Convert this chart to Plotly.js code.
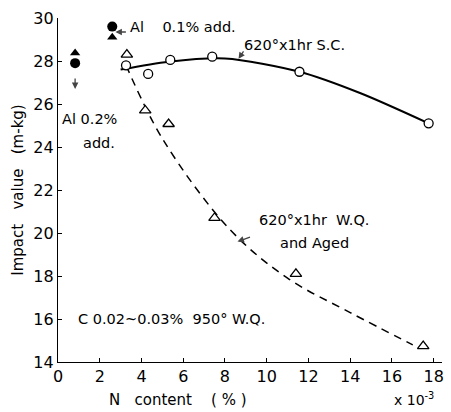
<!DOCTYPE html>
<html><head><meta charset="utf-8">
<script src="https://cdn.plot.ly/plotly-3.0.1.min.js"></script>
<style>body{margin:0;background:#fff}#c{width:451px;height:412px}</style>
</head><body><div id="c"></div>
<script>
// Measured points
const scX = [3.26, 4.32, 5.38, 7.39, 11.57, 17.76];
const scY = [27.8, 27.4, 28.05, 28.2, 27.5, 25.1];
const wqX = [3.3, 4.18, 5.3, 7.5, 11.4, 17.5];
const wqY = [28.3, 25.7, 25.07, 20.7, 18.1, 14.74];
// Hand-drawn fitting curves
const scCurveX = [3.0, 5.3, 8.0, 11.57, 14.5, 17.76];
const scCurveY = [27.6, 27.97, 28.12, 27.5, 26.5, 25.1];
const wqCurveX = [3.26, 5.04, 8.26, 11.0, 14.0, 17.0];
const wqCurveY = [27.8, 24.33, 20.14, 17.9, 16.3, 14.8];
// Al addition (filled markers)
const al2X = [0.82], al2CircY = [27.9], al2TriY = [28.37];
const al1X = [2.6], al1CircY = [29.6], al1TriY = [29.1];
const xTicks = [0,2,4,6,8,10,12,14,16,18];
const yTicks = [14,16,18,20,22,24,26,28,30];

const F = "DejaVu Sans";
const traces = [
  {x: scCurveX, y: scCurveY, mode:'lines', line:{shape:'spline', smoothing:0.8, color:'#000', width:2}, hoverinfo:'skip'},
  {x: wqCurveX, y: wqCurveY, mode:'lines', line:{shape:'spline', color:'#000', width:1.5, dash:'8px,6px'}, hoverinfo:'skip'},
  {x: scX, y: scY, mode:'markers', marker:{symbol:'circle', size:9, color:'#fff', line:{color:'#000', width:1.3}}},
  {x: wqX, y: wqY, mode:'markers', marker:{symbol:'triangle-up', size:10, color:'#fff', line:{color:'#000', width:1.3}}},
  {x: al2X, y: al2CircY, mode:'markers', marker:{symbol:'circle', size:10, color:'#000'}},
  {x: al2X, y: al2TriY, mode:'markers', marker:{symbol:'triangle-up', size:9, color:'#000'}},
  {x: al1X, y: al1CircY, mode:'markers', marker:{symbol:'circle', size:10, color:'#000'}},
  {x: al1X, y: al1TriY, mode:'markers', marker:{symbol:'triangle-up', size:9, color:'#000'}}
];
const tf = {family:F, size:14.5, color:'#000'};
const ann = (x,y,text,extra) => Object.assign({x, y, xref:'x', yref:'y', text, showarrow:false, xanchor:'left', yanchor:'middle', font:tf}, extra||{});
const layout = {
  width:451, height:412, showlegend:false,
  paper_bgcolor:'#fff', plot_bgcolor:'#fff',
  margin:{l:58, r:9, t:18, b:50},
  xaxis:{range:[0,18.4], tickvals:xTicks, ticktext:xTicks.map(String), showgrid:false, zeroline:false,
    showline:true, linecolor:'#000', linewidth:1.2, ticks:'inside', ticklen:4, tickcolor:'#000',
    tickfont:{family:F, size:16, color:'#000'}},
  yaxis:{range:[14,30], tickvals:yTicks, ticktext:yTicks.map(String), showgrid:false, zeroline:false,
    showline:true, linecolor:'#000', linewidth:1.2, ticks:'inside', ticklen:4, tickcolor:'#000',
    tickfont:{family:F, size:16, color:'#000'},
    title:{text:'Impact   value   (m-kg)', font:{family:F, size:15, color:'#000'}, standoff:6}},
  annotations:[
    {x:(178-58)/384, y:0, xref:'paper', yref:'paper', xanchor:'center', yanchor:'middle', yshift:-38,
      text:'N&nbsp;&nbsp;&nbsp;content&nbsp;&nbsp;&nbsp;&nbsp;( % )', showarrow:false, font:{family:F, size:15, color:'#000'}},
    ann(3.35, 29.6, 'Al&nbsp;&nbsp;&nbsp;&nbsp;0.1% add.'),
    ann(8.8, 28.75, '620°x1hr S.C.'),
    ann(0.1, 25.3, 'Al 0.2%'),
    ann(1.1, 24.2, 'add.'),
    ann(9.55, 20.6, '620°x1hr&nbsp;&nbsp;W.Q.'),
    ann(10.55, 19.55, 'and Aged'),
    ann(0.85, 16.0, 'C 0.02~0.03%&nbsp;&nbsp;950° W.Q.'),
    {x:1, y:0, xref:'paper', yref:'paper', text:'x 10<sup>-3</sup>', showarrow:false, xanchor:'right', yanchor:'top', yshift:-26, xshift:-6, font:{family:F, size:14, color:'#000'}},
    // arrows
    {x:2.75, y:29.35, xref:'x', yref:'y', text:'', showarrow:true, arrowhead:2, arrowsize:1, arrowwidth:1.3, ax:12, ay:0},
    {x:8.65, y:28.1, xref:'x', yref:'y', text:'', showarrow:true, arrowhead:2, arrowsize:1, arrowwidth:1.3, ax:6, ay:-9},
    {x:8.6, y:19.6, xref:'x', yref:'y', text:'', showarrow:true, arrowhead:2, arrowsize:1, arrowwidth:1.3, ax:14, ay:-5},
    {x:0.82, y:26.7, xref:'x', yref:'y', text:'', showarrow:true, arrowhead:2, arrowsize:1, arrowwidth:1.3, ax:0, ay:-12}
  ]
};
Plotly.newPlot('c', traces, layout, {staticPlot:true});
</script></body></html>
